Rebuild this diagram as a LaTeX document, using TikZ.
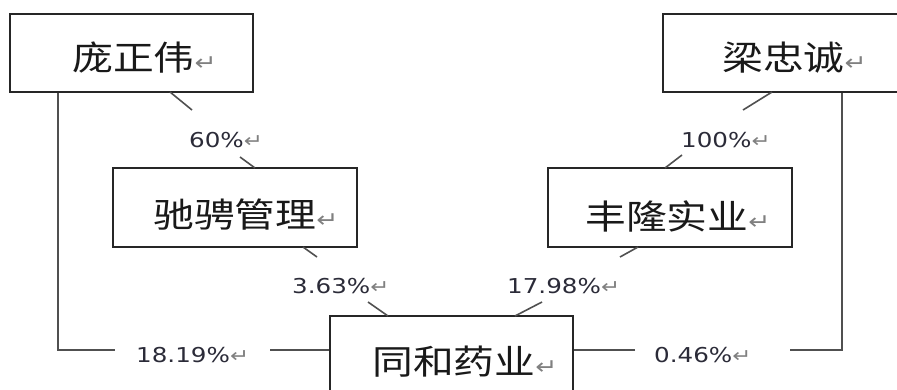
\documentclass[tikz,border=0pt]{standalone}
\usepackage{fontspec}
\usepackage{graphicx}
\newfontfamily\cjk{Noto Sans CJK SC}
\newfontfamily\dv{DejaVu Sans}
\definecolor{linec}{HTML}{505050}
\definecolor{boxc}{HTML}{262626}
\definecolor{pctc}{HTML}{2B2B38}
\newcommand{\pmark}[1]{{\color{gray}\dv\fontsize{#1}{#1}\selectfont ↵}}
\newcommand{\cjklab}[1]{\scalebox{1.2}[1]{\cjk\fontsize{34}{38}\selectfont #1\pmark{22}}}
\newcommand{\pctlab}[1]{\scalebox{1.2}[1]{\dv\fontsize{20.5}{24}\selectfont #1\pmark{19}}}
\tikzset{
  box/.style={draw=boxc, line width=1.6pt, inner sep=0pt, rectangle},
  conn/.style={draw=linec, line width=1.6pt},
  cjkt/.style={anchor=base west, inner sep=0pt, text=black!90},
  pctt/.style={anchor=base west, inner sep=0pt, text=pctc},
}
\begin{document}
\begin{tikzpicture}[x=1pt,y=-1pt]
\useasboundingbox (0,0) rectangle (897,389);
\clip (0,0) rectangle (897,389);
% boxes
\node[box, minimum width=243pt, minimum height=78pt] (pzw) at (131.5,53) {};
\node[box, minimum width=260pt, minimum height=78pt] (lzc) at (793,53) {};
\node[box, minimum width=244pt, minimum height=79pt] (cpgl) at (235,207.5) {};
\node[box, minimum width=244pt, minimum height=79pt] (flsy) at (670,207.5) {};
\node[box, minimum width=243pt, minimum height=80pt] (thyy) at (451.5,356) {};
% box texts
\node[cjkt] (pzwt) at (72,70.5) {\cjklab{庞正伟}};
\node[cjkt] (lzct) at (722,70.5) {\cjklab{梁忠诚}};
\node[cjkt] (cpglt) at (153,227.5) {\cjklab{驰骋管理}};
\node[cjkt] (flsyt) at (585,229.5) {\cjklab{丰隆实业}};
\node[cjkt] (thyyt) at (372,374.5) {\cjklab{同和药业}};
% percentage labels
\node[pctt] (p60) at (189,147) {\pctlab{60\%}};
\node[pctt] (p100) at (681,147) {\pctlab{100\%}};
\node[pctt] (p363) at (292,293) {\pctlab{3.63\%}};
\node[pctt] (p1798) at (507,293) {\pctlab{17.98\%}};
\node[pctt] (p1819) at (136,362) {\pctlab{18.19\%}};
\node[pctt] (p046) at (654,362) {\pctlab{0.46\%}};
% connector end points
\coordinate (a1) at (170,92);  \coordinate (a2) at (192,110);
\coordinate (b1) at (240,157); \coordinate (b2) at (255,168);
\coordinate (c1) at (303,247); \coordinate (c2) at (317,257);
\coordinate (d1) at (368,302); \coordinate (d2) at (388,316);
\coordinate (e1) at (772,92);  \coordinate (e2) at (743,110);
\coordinate (f1) at (682,155); \coordinate (f2) at (665,168);
\coordinate (g1) at (638,247); \coordinate (g2) at (620,257);
\coordinate (h1) at (542,302); \coordinate (h2) at (515,316);
\coordinate (L1) at (58,350);  \coordinate (L2) at (115,350); \coordinate (L3) at (270,350);
\coordinate (R1) at (842,350); \coordinate (R2) at (790,350); \coordinate (R3) at (635,350);
% connectors
\draw[conn] (a1) -- (a2);
\draw[conn] (b1) -- (b2);
\draw[conn] (c1) -- (c2);
\draw[conn] (d1) -- (d2);
\draw[conn] (e1) -- (e2);
\draw[conn] (f1) -- (f2);
\draw[conn] (g1) -- (g2);
\draw[conn] (h1) -- (h2);
\draw[conn] (L1 |- pzw.south) -- (L1) -- (L2);
\draw[conn] (L3) -- (L3 -| thyy.west);
\draw[conn] (R1 |- lzc.south) -- (R1) -- (R2);
\draw[conn] (R3) -- (R3 -| thyy.east);
\end{tikzpicture}
\end{document}
